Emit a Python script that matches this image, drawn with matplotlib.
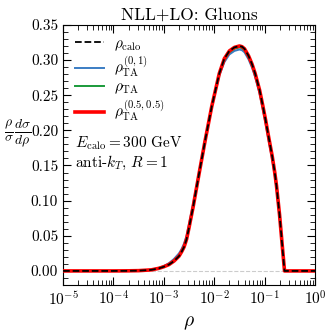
import numpy as np
import matplotlib
matplotlib.use("Agg")
import matplotlib.pyplot as plt
from matplotlib.ticker import MultipleLocator, LogLocator, NullFormatter, FormatStrFormatter

plt.rcParams['font.family'] = 'serif'
plt.rcParams['font.serif'] = ['cmr10']
plt.rcParams['mathtext.fontset'] = 'cm'
plt.rcParams['axes.formatter.use_mathtext'] = True
plt.rcParams['axes.unicode_minus'] = False

# log10(rho) sampling points
log_rho = [-5.0, -4.5, -4.0, -3.75, -3.5, -3.25, -3.1, -3.0, -2.9, -2.8,
           -2.7, -2.65, -2.6, -2.55, -2.5, -2.42, -2.3, -2.18, -2.05, -1.9,
           -1.8, -1.7, -1.6, -1.5, -1.45, -1.4, -1.32, -1.25, -1.19, -1.1,
           -1.04, -0.98, -0.92, -0.85, -0.8, -0.765, -0.705, -0.646, -0.606, -0.5,
           0.0]

calo = [0.0, 0.0, 0.0, 0.0001, 0.0004, 0.0015, 0.0037, 0.006, 0.009, 0.014,
        0.021, 0.027, 0.034, 0.045, 0.062, 0.091, 0.139, 0.186, 0.234, 0.281,
        0.302, 0.313, 0.318, 0.320, 0.319, 0.316, 0.306, 0.294, 0.281, 0.257,
        0.236, 0.214, 0.190, 0.163, 0.140, 0.121, 0.080, 0.032, 0.0, 0.0,
        0.0]

ta01 = [0.0, 0.0, 0.0, 0.0001, 0.0005, 0.0018, 0.0043, 0.007, 0.011, 0.017,
        0.025, 0.031, 0.039, 0.050, 0.067, 0.095, 0.141, 0.187, 0.233, 0.278,
        0.297, 0.308, 0.313, 0.315, 0.314, 0.311, 0.301, 0.289, 0.276, 0.252,
        0.231, 0.209, 0.185, 0.158, 0.136, 0.117, 0.077, 0.030, 0.0, 0.0,
        0.0]

ta = [0.0, 0.0, 0.0, 0.0001, 0.0004, 0.0016, 0.0039, 0.0064, 0.0097, 0.015,
      0.022, 0.028, 0.035, 0.046, 0.063, 0.092, 0.140, 0.186, 0.234, 0.280,
      0.300, 0.311, 0.316, 0.318, 0.317, 0.314, 0.304, 0.292, 0.279, 0.255,
      0.234, 0.212, 0.188, 0.161, 0.138, 0.119, 0.079, 0.031, 0.0, 0.0,
      0.0]

ta55 = [0.0, 0.0, 0.0, 0.0001, 0.0004, 0.0015, 0.0037, 0.006, 0.009, 0.014,
        0.021, 0.027, 0.034, 0.045, 0.062, 0.091, 0.139, 0.186, 0.234, 0.281,
        0.302, 0.313, 0.318, 0.320, 0.319, 0.316, 0.306, 0.294, 0.281, 0.257,
        0.236, 0.214, 0.190, 0.163, 0.140, 0.121, 0.080, 0.032, 0.0, 0.0,
        0.0]

rho = 10.0 ** np.array(log_rho)

fig = plt.figure(figsize=(3.32, 3.32), dpi=100)
ax = fig.add_axes([0.19, 0.1416, 0.759, 0.7834])

ax.axhline(0, color='#cccccc', ls='--', lw=0.8, zorder=0)
ax.plot(rho, ta01, color='#3b7dc4', lw=1.4, label=r'$\rho_{\rm TA}^{(0,1)}$', zorder=2)
ax.plot(rho, ta, color='#1a9a3a', lw=1.4, label=r'$\rho_{\rm TA}$', zorder=3)
ax.plot(rho, ta55, color='red', lw=2.6, label=r'$\rho_{\rm TA}^{(0.5,0.5)}$', zorder=4)
ax.plot(rho, calo, color='black', ls='--', lw=1.3, label=r'$\rho_{\rm calo}$', zorder=5)

ax.set_xscale('log')
ax.set_xlim(1e-5, 1)
ax.set_ylim(-0.02, 0.35)
ax.yaxis.set_major_locator(MultipleLocator(0.05))
ax.yaxis.set_minor_locator(MultipleLocator(0.01))
ax.yaxis.set_major_formatter(FormatStrFormatter('%.2f'))
ax.xaxis.set_major_locator(LogLocator(base=10, numticks=10))
ax.xaxis.set_minor_locator(LogLocator(base=10, subs=np.arange(2, 10), numticks=10))
ax.xaxis.set_minor_formatter(NullFormatter())
ax.tick_params(which='both', direction='in', top=True, right=True, labelsize=11)
ax.tick_params(which='major', length=6, width=0.8)
ax.tick_params(which='minor', length=3.5, width=0.6)

ax.set_title('NLL+LO: Gluons', fontsize=12.5, pad=4)
ax.set_xlabel(r'$\rho$', fontsize=14)
ax.set_ylabel(r'$\frac{\rho}{\sigma}\frac{d\sigma}{d\rho}$', fontsize=14, rotation=0)
ax.yaxis.set_label_coords(-0.18, 0.52)

handles, labels = ax.get_legend_handles_labels()
order = [3, 0, 1, 2]
ax.legend([handles[i] for i in order], [labels[i] for i in order], loc='upper left',
          frameon=False, fontsize=11, handlelength=1.9, handletextpad=0.65,
          labelspacing=0.12, borderaxespad=0.4)

ax.text(0.048, 0.53, r'$E_{\rm calo} = 300$ GeV', transform=ax.transAxes, fontsize=11)
ax.text(0.048, 0.455, r'anti-$k_T$, $R = 1$', transform=ax.transAxes, fontsize=11)

fig.savefig('out.png', dpi=100)
